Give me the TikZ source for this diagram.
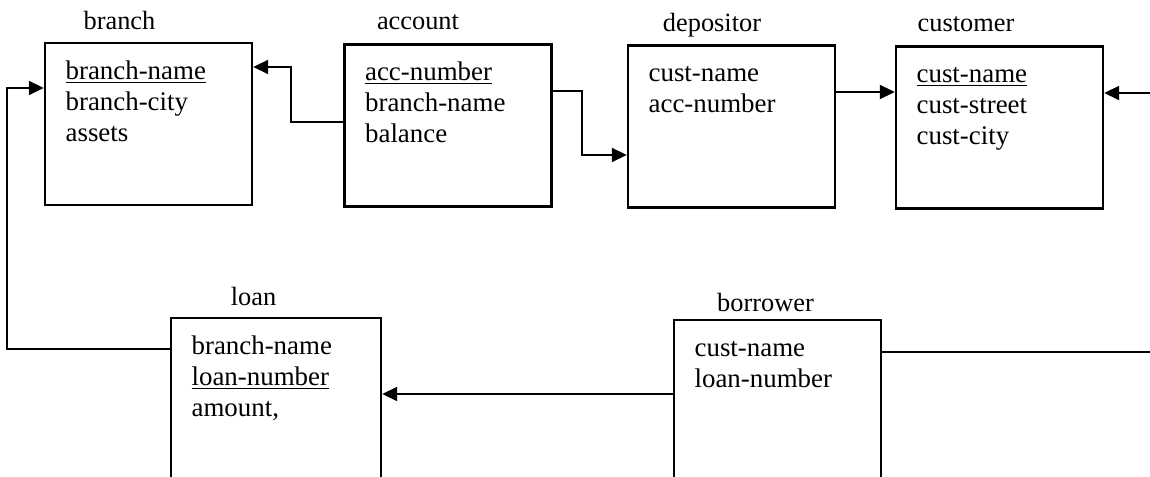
\documentclass[tikz,border=0pt]{standalone}
\usepackage{fontspec}
\setmainfont{Liberation Serif}
\usetikzlibrary{arrows.meta, positioning, calc}

\begin{document}
\begin{tikzpicture}[
    font=\fontsize{15}{17.6}\selectfont,
    rel/.style={draw, line width=1.4pt, minimum width=4.14cm, minimum height=3.24cm,
                inner sep=0pt},
    attrs/.style={anchor=north west, align=left, inner sep=0pt,
                  font=\fontsize{15.3}{17.6}\selectfont},
    title/.style={anchor=base, inner sep=0pt},
    fk/.style={-{Triangle[length=0.3cm, width=0.28cm]}, line width=1.2pt},
]
    \useasboundingbox (0,0) rectangle (23,-9.54);
    \clip (0,0) rectangle (23,-9.54);

    %==================== TOP ROW ====================
    \node[rel] (branch) at (2.97,-2.48) {};
    \node[title] at (2.39,-0.6) {branch};
    \node[attrs] at ([xshift=0.43cm, yshift=-0.31cm]branch.north west)
        {\strut\underline{branch-name}\\ branch-city\\ assets};

    \node[rel] (account) at (8.96,-2.51) {};
    \node[title] at (8.36,-0.6) {account};
    \node[attrs] at ([xshift=0.43cm, yshift=-0.31cm]account.north west)
        {\strut\underline{acc-number}\\ branch-name\\ balance};

    \node[rel] (depositor) at (14.63,-2.53) {};
    \node[title] at (14.24,-0.64) {depositor};
    \node[attrs] at ([xshift=0.43cm, yshift=-0.31cm]depositor.north west)
        {\strut cust-name\\ acc-number};

    \node[rel] (customer) at (19.99,-2.55) {};
    \node[title] at (19.32,-0.64) {customer};
    \node[attrs] at ([xshift=0.43cm, yshift=-0.31cm]customer.north west)
        {\strut\underline{cust-name}\\ cust-street\\ cust-city};

    %==================== BOTTOM ROW ====================
    \node[rel, minimum width=4.2cm] (loan) at (5.52,-7.98) {};
    \node[title] at (5.07,-6.12) {loan};
    \node[attrs] at ([xshift=0.43cm, yshift=-0.31cm]loan.north west)
        {\strut branch-name\\ \underline{loan-number}\\ amount,};

    \node[rel] (borrower) at (15.55,-8.02) {};
    \node[title] at (15.31,-6.24) {borrower};
    \node[attrs] at ([xshift=0.43cm, yshift=-0.31cm]borrower.north west)
        {\strut cust-name\\ loan-number};

    %==================== FOREIGN KEYS ====================
    \draw[fk] ([yshift=0.07cm]account.west) -- ++(-1.04,0) |- ([yshift=1.14cm]branch.east);
    \draw[fk] ([yshift=0.69cm]account.east) -- ++(0.58,0) |- ([yshift=-0.57cm]depositor.west);
    \draw[fk] ([yshift=0.69cm]depositor.east) -- ([yshift=0.69cm]depositor.east -| customer.west);
    \draw[fk] ([yshift=0.98cm]borrower.east) -- ++(6,0) |- ([yshift=0.69cm]customer.east);
    \draw[fk] ([yshift=1cm]loan.west) -- ++(-3.26,0) |- ([yshift=0.72cm]branch.west);
    \draw[fk] ([yshift=0.14cm]borrower.west) -- ([yshift=0.14cm]borrower.west -| loan.east);

\end{tikzpicture}
\end{document}
